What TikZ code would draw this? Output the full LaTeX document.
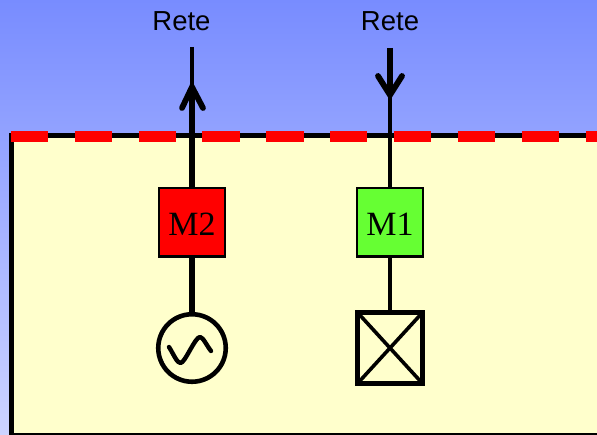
\documentclass[tikz,border=0pt]{standalone}
\usepackage{fontspec}
\setmainfont{Liberation Serif}
\newfontfamily\retefont{Liberation Sans}
\definecolor{bgtop}{RGB}{120,140,255}
\definecolor{bgbot}{RGB}{205,212,255}
\definecolor{panel}{RGB}{255,255,204}
\definecolor{mgreen}{RGB}{102,255,51}
\definecolor{mred}{RGB}{255,0,0}
\tikzset{
  every node/.style={inner sep=0pt,outer sep=0pt},
  unit/.style={draw=black,line width=2.4pt,minimum width=65.5pt,minimum height=68.5pt,text=black},
  unitlabel/.style={font=\fontsize{34}{34}\selectfont,text=black},
  rete/.style={font=\retefont\fontsize{27.5}{27.5}\selectfont,text=black},
  wire/.style={draw=black,line width=5.2pt},
  thinwire/.style={draw=black,line width=4pt},
  head/.style={draw=black,line width=5.8pt,line cap=round,line join=miter}
}
\begin{document}
\begin{tikzpicture}[x=1pt,y=-1pt]
\useasboundingbox (0,0) rectangle (597,435);
\shade[top color=bgtop,bottom color=bgbot] (0,0) rectangle (597,435);
\fill[panel] (11,136) rectangle (597,435);
% frame
\draw[black,line width=5pt] (11,435) -- (11,136) -- (597,136);
\draw[black,line width=2.4pt] (11,434) -- (597,434);
% top labels
\node[rete] (lab2) at (181.5,21.5) {Rete};
\node[rete] (lab1) at (390,21.5) {Rete};
\coordinate (t2) at (192,47);
\coordinate (t1) at (390,48);
\coordinate (h2) at (192,87);
\coordinate (h1) at (390,95);
% blocks
\node[unit,fill=mred] (M2) at (192,222.3) {};
\node[unit,fill=mgreen] (M1) at (390,222.3) {};
\node[unitlabel] (M2t) at (192,224) {M2};
\node[unitlabel] (M1t) at (390,224) {M1};
% symbols
\node[draw=black,line width=4.6pt,circle,minimum size=67.5pt] (gen) at (192,348) {};
\node[draw=black,line width=4.4pt,minimum width=65pt,minimum height=71pt] (load) at (390,348) {};
% wires
\draw[thinwire] (t2) -- (h2);
\draw[wire] (h2) -- (M2.north);
\draw[wire] (M2.south) -- (gen.north);
\draw[wire] (t1) -- (h1);
\draw[thinwire] (h1) -- (M1.north);
\draw[thinwire] (M1.south) -- (load.north);
% arrow heads
\draw[head] (182,108) -- (h2) -- (203,108);
\draw[head] (378,76) -- (h1) -- (402,76);
% load cross
\draw[black,line width=3.6pt] (load.north west) -- (load.south east);
\draw[black,line width=3.6pt] (load.north east) -- (load.south west);
\draw[black,line width=5pt] (load.south west) -- (load.south east);
% sine
\draw[black,line width=4.4pt,line cap=round,line join=round] (169,347) .. controls (174,355) and (177,363) .. (180.5,363) .. controls (185,363) and (195,337) .. (200,337) .. controls (203,337) and (207,346) .. (211,351);
% red dashes
\foreach \x in {10.7,74.6,138.5,202.4,266.3,330.2,394.1,458,521.9,585.8}
  \fill[mred] (\x,131) rectangle ++(37.2,11);
\end{tikzpicture}
\end{document}
